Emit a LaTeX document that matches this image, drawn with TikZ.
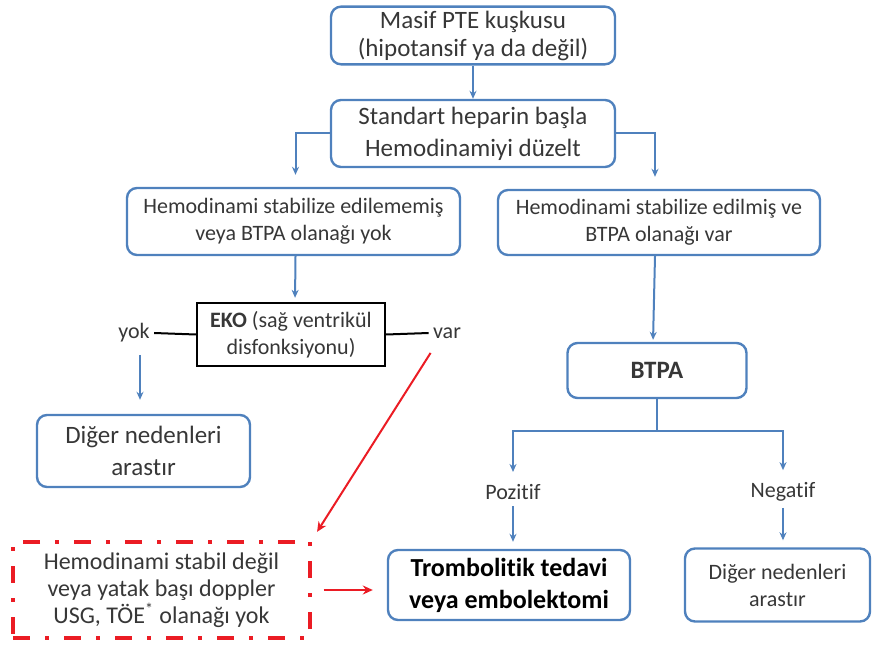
\documentclass[tikz,border=0pt]{standalone}
\usepackage{fontspec}
\setmainfont{Carlito}[Ligatures=NoCommon]
\usetikzlibrary{positioning,arrows.meta}
\definecolor{boxblue}{RGB}{79,129,189}
\definecolor{flowred}{RGB}{235,28,36}
\definecolor{textgray}{RGB}{55,55,55}

\begin{document}
\begin{tikzpicture}[x=0.5pt,y=-0.5pt,
  font=\fontsize{11}{13.5}\selectfont,
  flowbox/.style={draw=boxblue, line width=1.2pt, rounded corners=5pt,
    align=center, inner sep=2pt, text=textgray},
  ekobox/.style={draw=black, line width=1.2pt, align=center, inner sep=2pt, text=textgray},
  redbox/.style={draw=flowred, line width=1.7pt,
    dash pattern=on 8.5pt off 7.5pt on 2pt off 7.5pt, align=center, inner sep=2pt, text=textgray},
  flowlabel/.style={text=textgray, inner sep=2pt},
  flowarrow/.style={draw=boxblue, line width=1pt, -{Stealth[length=4pt,width=3.5pt]}},
  flowline/.style={draw=boxblue, line width=1pt},
  ekoline/.style={draw=black, line width=1pt},
  redarrow/.style={draw=flowred, line width=1pt, -{Stealth[length=5pt,width=4.5pt]}}
]
  \useasboundingbox (0,0) rectangle (872,646);

  \node[flowbox, font=\fontsize{12.5}{14}\selectfont, minimum width=142pt, minimum height=27.5pt] (suspect) at (473,35.5)
    {Masif PTE kuşkusu\\(hipotansif ya da değil)};
  \node[flowbox, font=\fontsize{12.5}{16}\selectfont, minimum width=142pt, minimum height=33.5pt] (heparin) at (473,133.5)
    {Standart heparin başla\\Hemodinamiyi düzelt};
  \node[flowbox, minimum width=166.5pt, minimum height=33.5pt] (unstable) at (293.5,221.5)
    {Hemodinami stabilize edilememiş\\veya BTPA olanağı yok};
  \node[flowbox, minimum width=161pt, minimum height=32.5pt] (stable) at (659,222.5)
    {Hemodinami stabilize edilmiş ve\\BTPA olanağı var};
  \node[ekobox, minimum width=94pt, minimum height=31.5pt] (eko) at (291,334.5)
    {\textbf{EKO} (sağ ventrikül\\disfonksiyonu)};
  \node[flowlabel] (yok) at (134,333) {yok};
  \node[flowlabel] (var) at (447,333) {var};
  \node[flowbox, font=\fontsize{12.5}{16}\selectfont, minimum width=106.5pt, minimum height=36pt] (otherleft) at (143.5,451)
    {Diğer nedenleri\\arastır};
  \node[redbox, font=\fontsize{12}{13.5}\selectfont, minimum width=148.5pt, minimum height=48pt] (nodoppler) at (161.5,590)
    {Hemodinami stabil değil\\veya yatak başı doppler\\USG, TÖE\textsuperscript{*} olanağı yok};
  \node[flowbox, font=\fontsize{12.5}{14}\selectfont, minimum width=89.5pt, minimum height=27.5pt] (btpa) at (657,370.5)
    {\textbf{BTPA}};
  \node[flowlabel] (pozitif) at (513,492) {Pozitif};
  \node[flowlabel] (negatif) at (783,492) {Negatif};
  \node[flowbox, text=black, font=\fontsize{13}{16}\selectfont, minimum width=121pt, minimum height=35pt] (treatment) at (509,585)
    {\textbf{Trombolitik tedavi}\\\textbf{veya embolektomi}};
  \node[flowbox, minimum width=92.5pt, minimum height=36.5pt] (otherright) at (777.5,585)
    {Diğer nedenleri\\arastır};

  \draw[flowarrow] (suspect) -- (heparin);
  \draw[flowarrow, shorten >=6pt] (heparin.west) -| ([xshift=1pt]unstable.north);
  \draw[flowarrow, shorten >=6pt] (heparin.east) -| ([xshift=-2pt]stable.north);
  \draw[flowarrow, shorten >=2pt] ([xshift=1pt]unstable.south) -- ([xshift=2pt]eko.north);
  \draw[ekoline] (eko.west) -- (yok.east);
  \draw[ekoline] (eko.east) -- (var.west);
  \draw[flowarrow, shorten <=4pt, shorten >=7pt] ([xshift=3pt]yok.south) -- ([xshift=3pt]yok.south |- otherleft.north);
  \draw[flowarrow, shorten >=1pt] ([xshift=-2pt]stable.south) -- ([xshift=-2pt]btpa.north);
  \coordinate (split) at ([yshift=-16pt]btpa.south);
  \draw[flowline] (btpa.south) -- (split);
  \draw[flowarrow, shorten >=4pt] (split) -| (pozitif.north);
  \draw[flowarrow, shorten >=4pt] (split) -| (negatif.north);
  \draw[flowarrow, shorten <=1pt, shorten >=3.5pt] (pozitif) -- (pozitif |- treatment.north);
  \draw[flowarrow, shorten <=1pt, shorten >=3.5pt] (negatif) -- (negatif |- otherright.north);
  \draw[redarrow, shorten <=6pt, shorten >=5pt] ([xshift=-5pt]var.south) -- (nodoppler.north east);
  \draw[redarrow, shorten <=6pt, shorten >=7pt] (nodoppler.east) -- (nodoppler.east -| treatment.west);
\end{tikzpicture}
\end{document}
